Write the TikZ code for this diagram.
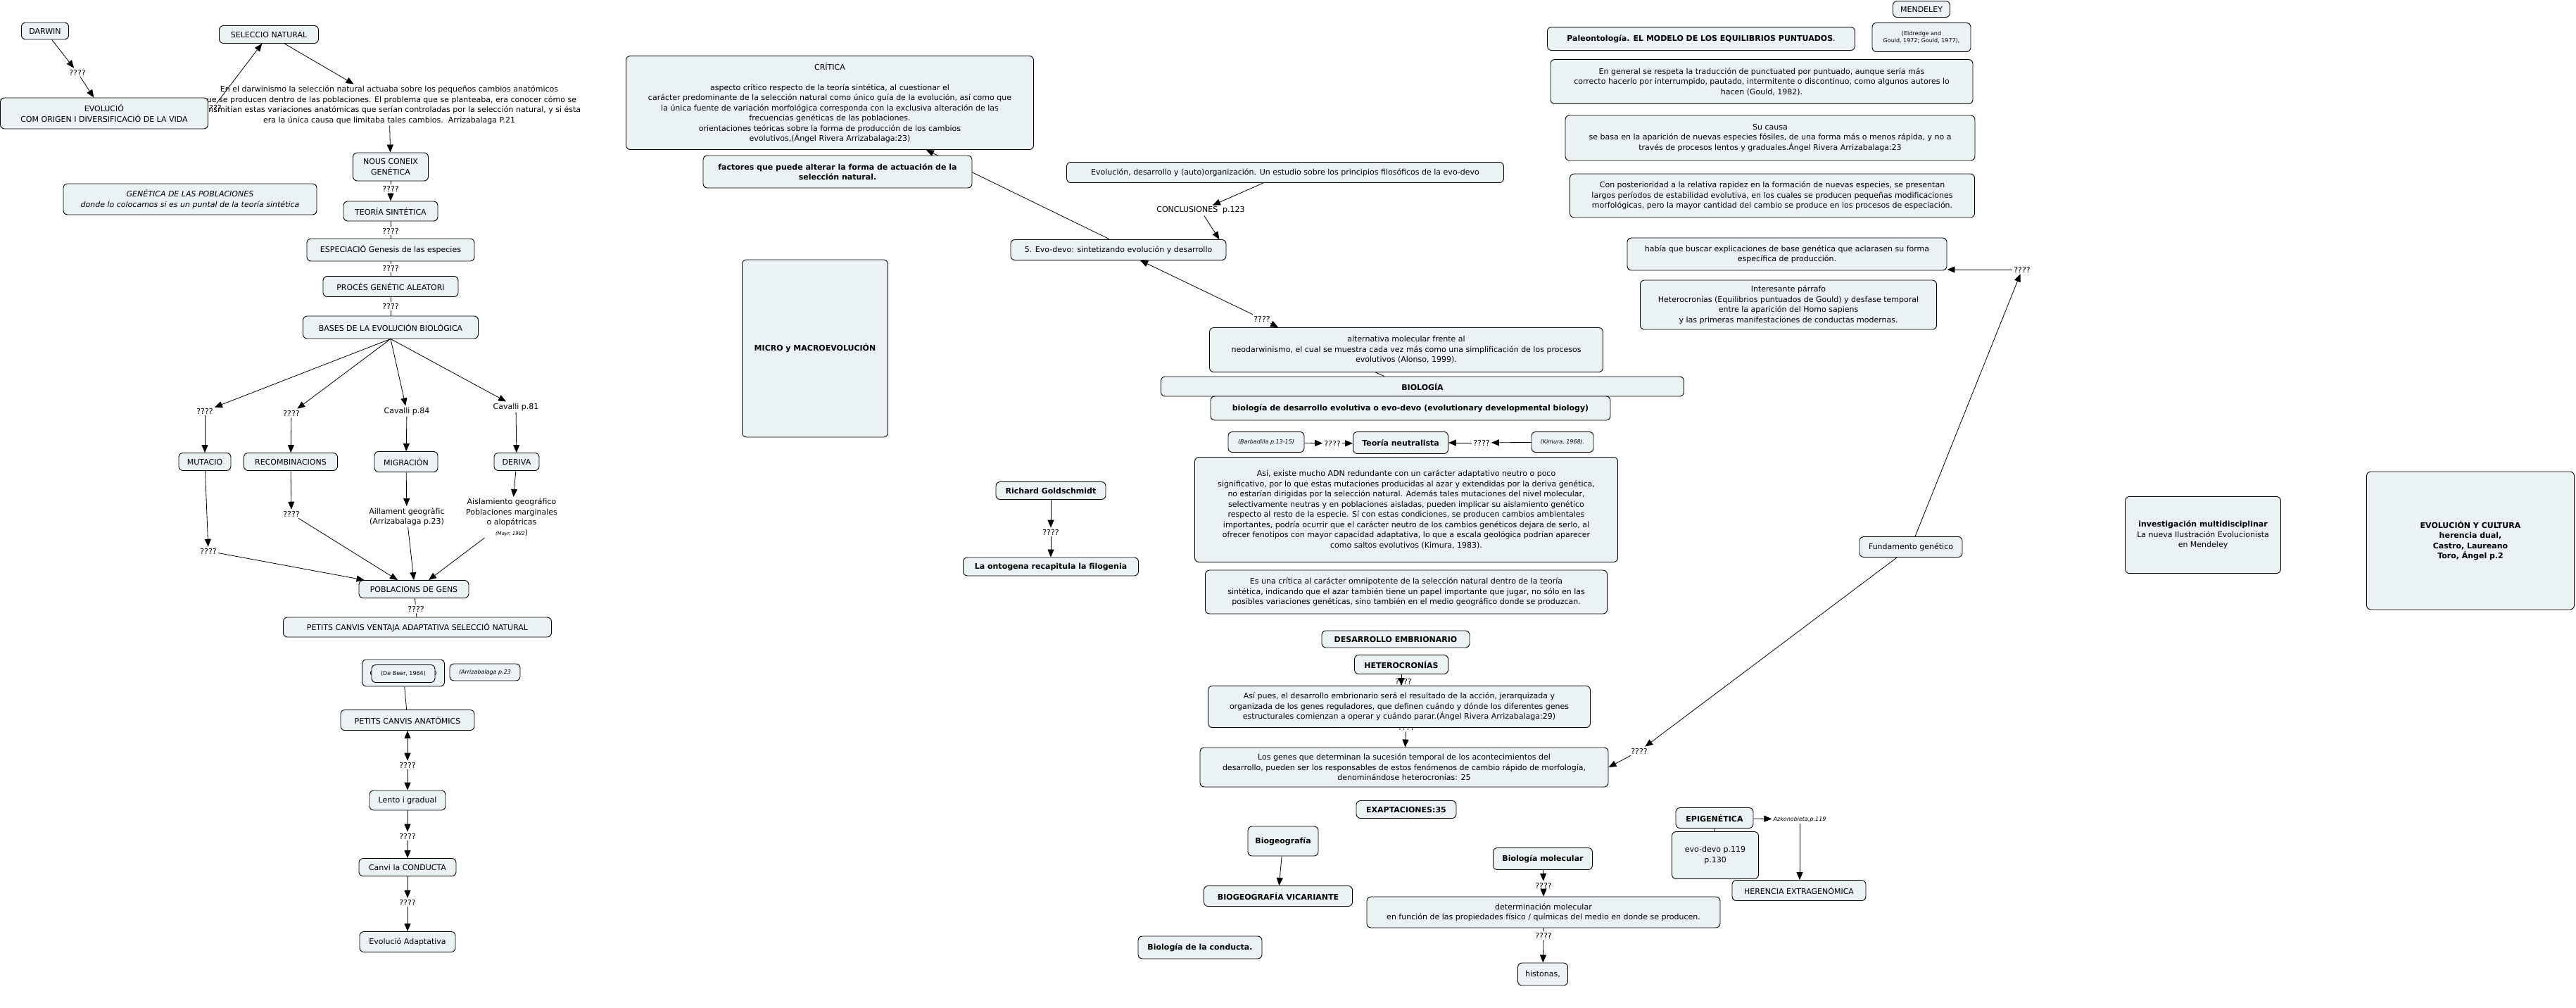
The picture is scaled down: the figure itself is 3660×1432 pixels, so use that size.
\documentclass[tikz,border=0pt]{standalone}
\usepackage{fontspec}
\setmainfont{DejaVu Sans}
\usetikzlibrary{arrows.meta,backgrounds,calc}
\definecolor{boxfill}{RGB}{235,242,244}
\newcommand\fs{\fontsize{11}{14.5}\selectfont}
\newcommand\smf{\fontsize{8}{10}\selectfont}
\tikzset{
 box/.style={draw=black, line width=0.9pt, fill=boxfill, rounded corners=6pt, align=center, inner sep=2pt, font=\fs, text=black},
 bbox/.style={box, font=\fs\bfseries},
 lbl/.style={inner sep=2pt, font=\fs, align=center, text=black},
 arr/.style={-{Triangle[length=11pt,width=9pt]}, line width=0.8pt},
 ln/.style={line width=0.8pt},
 darr/.style={{Triangle[length=11pt,width=9pt]}-{Triangle[length=11pt,width=9pt]}, line width=0.8pt},
}
\begin{document}
\begin{tikzpicture}[x=1pt,y=-1pt]
\useasboundingbox (0,0) rectangle (3660,1432);
% ---------------- left column
\node[box, minimum width=67, minimum height=24] (darwin) at (64,44) {DARWIN};
\node[lbl] (q1) at (110,103) {????};
\node[lbl] (para) at (553,149) {En el darwinismo la selección natural actuaba sobre los pequeños cambios anatómicos\\que se producen dentro de las poblaciones. El problema que se planteaba, era conocer cómo se\\transmitían estas variaciones anatómicas que serían controladas por la selección natural, y si ésta\\era la única causa que limitaba tales cambios.\ \ Arrizabalaga P.21};
\node[lbl] (q2) at (303,153) {????};
\node[box, minimum width=295, minimum height=44] (evol) at (148,161) {EVOLUCIÓ\\COM ORIGEN I DIVERSIFICACIÓ DE LA VIDA};
\node[box, minimum width=141, minimum height=25] (selnat) at (382,49) {SELECCIO NATURAL};
\node[box, minimum width=107, minimum height=40] (nous) at (555,237) {NOUS CONEIX\\GENÉTICA};
\node[lbl] (q3) at (555,268) {????};
\node[box, minimum width=134, minimum height=28] (teoria) at (555,300) {TEORÍA SINTÉTICA};
\node[lbl] (q4) at (555,328) {????};
\node[box, minimum width=238, minimum height=32] (espec) at (555,355) {ESPECIACIÓ Genesis de las especies};
\node[lbl] (q5) at (555,381) {????};
\node[box, minimum width=192, minimum height=29] (proces) at (555,407) {PROCÉS GENÉTIC ALEATORI};
\node[lbl] (q6) at (555,435) {????};
\node[box, minimum width=249, minimum height=32] (bases) at (555,465) {BASES DE LA EVOLUCIÓN BIOLÓGICA};
\node[box, minimum width=360, minimum height=44, font=\fs\itshape] (genpob) at (270,283) {GENÉTICA DE LAS POBLACIONES\\donde lo colocamos si es un puntal de la teoría sintética};
\node[lbl] (qm) at (291,584) {????};
\node[lbl] (qr) at (414,587) {????};
\node[lbl] (cav84) at (578,584) {Cavalli p.84};
\node[lbl] (cav81) at (733,578) {Cavalli p.81};
\node[box, minimum width=74, minimum height=25] (mut) at (291,656) {MUTACIO};
\node[box, minimum width=133, minimum height=25] (recomb) at (413,656) {RECOMBINACIONS};
\node[box, minimum width=90, minimum height=29] (migr) at (577,656) {MIGRACIÓN};
\node[box, minimum width=64, minimum height=25] (deriva) at (734,656) {DERIVA};
\node[lbl] (qm2) at (296,783) {????};
\node[lbl] (qr2) at (414,730) {????};
\node[lbl] (aill) at (578,734) {Aillament geogràfic\\(Arrizabalaga p.23)};
\node[lbl] (aisl) at (727,735) {Aislamiento geográfico\\Poblaciones marginales\\o alopátricas\\{\fontsize{7}{9}\selectfont\itshape (Mayr, 1982}{)}};
\node[box, minimum width=156, minimum height=25] (pobl) at (588,837) {POBLACIONS DE GENS};
\node[lbl] (q7) at (591,865) {????};
\node[box, minimum width=381, minimum height=28] (petits) at (593,891) {PETITS CANVIS VENTAJA ADAPTATIVA SELECCIÓ NATURAL};
\node[box, minimum width=117, minimum height=38] (beerout) at (573,956) {e\hspace{82pt}o};
\node[box, minimum width=90, minimum height=25, font=\smf] (beer) at (573,957) {(De Beer, 1964)};
\node[box, minimum width=100, minimum height=24, font=\smf\itshape] (arriz) at (689,955) {(Arrizabalaga p.23};
\node[box, minimum width=190, minimum height=29] (anat) at (579,1023) {PETITS CANVIS ANATÓMICS};
\node[lbl] (q8) at (579,1087) {????};
\node[box, minimum width=108, minimum height=28] (lento) at (579,1137) {Lento i gradual};
\node[lbl] (q9) at (579,1188) {????};
\node[box, minimum width=138, minimum height=25] (conducta) at (579,1232) {Canvi la CONDUCTA};
\node[lbl] (q10) at (579,1282) {????};
\node[box, minimum width=136, minimum height=29] (adapt) at (579,1338) {Evolució Adaptativa};
% ---------------- middle
\node[box, minimum width=579, minimum height=133] (critica) at (1179,146) {CRÍTICA\\[14.5pt]aspecto crítico respecto de la teoría sintética, al cuestionar el\\carácter predominante de la selección natural como único guía de la evolución, así como que\\la única fuente de variación morfológica corresponda con la exclusiva alteración de las\\frecuencias genéticas de las poblaciones.\\orientaciones teóricas sobre la forma de producción de los cambios\\evolutivos,(Ángel Rivera Arrizabalaga:23)};
\node[lbl] (qcrit) at (1589,346) {????};
\node[bbox, minimum width=382, minimum height=46] (factores) at (1190,244) {factores que puede alterar la forma de actuación de la\\selección natural.};
\node[bbox, minimum width=207, minimum height=252] (micro) at (1158,495) {MICRO y MACROEVOLUCIÓN};
\node[box, minimum width=621, minimum height=29] (evodes) at (1826,245) {Evolución, desarrollo y (auto)organización. Un estudio sobre los principios filosóficos de la evo-devo};
\node[lbl] (concl) at (1706,299) {CONCLUSIONES\ \ p.123};
\node[box, minimum width=306, minimum height=29] (evo5) at (1589,355) {5. Evo-devo: sintetizando evolución y desarrollo};
\node[lbl] (qalt) at (1793,453) {????};
\node[box, minimum width=559, minimum height=63] (alt) at (1998,497) {alternativa molecular frente al\\neodarwinismo, el cual se muestra cada vez más como una simplificación de los procesos\\evolutivos (Alonso, 1999).};
\node[bbox, minimum width=743, minimum height=28] (biol) at (2021,549) {BIOLOGÍA};
\node[bbox, minimum width=568, minimum height=34] (biodev) at (2004,580) {biología de desarrollo evolutiva o evo-devo (evolutionary developmental biology)};
\node[box, minimum width=108, minimum height=29, font=\smf\itshape] (barb) at (1799,628) {(Barbadilla p.13-15)};
\node[lbl] (qb) at (1893,630) {????};
\node[bbox, minimum width=135, minimum height=31] (teoneu) at (1990,629) {Teoría neutralista};
\node[lbl] (qk) at (2105,629) {????};
\node[box, minimum width=88, minimum height=29, font=\smf\itshape] (kim) at (2220,628) {(Kimura, 1968).};
\node[box, minimum width=601, minimum height=149] (asi) at (1998,724) {Así, existe mucho ADN redundante con un carácter adaptativo neutro o poco\\significativo, por lo que estas mutaciones producidas al azar y extendidas por la deriva genética,\\no estarían dirigidas por la selección natural. Además tales mutaciones del nivel molecular,\\selectivamente neutras y en poblaciones aisladas, pueden implicar su aislamiento genético\\respecto al resto de la especie. Sí con estas condiciones, se producen cambios ambientales\\importantes, podría ocurrir que el carácter neutro de los cambios genéticos dejara de serlo, al\\ofrecer fenotipos con mayor capacidad adaptativa, lo que a escala geológica podrían aparecer\\como saltos evolutivos (Kimura, 1983).};
\node[box, minimum width=571, minimum height=62] (escrit) at (1998,841) {Es una crítica al carácter omnipotente de la selección natural dentro de la teoría\\sintética, indicando que el azar también tiene un papel importante que jugar, no sólo en las\\posibles variaciones genéticas, sino también en el medio geográfico donde se produzcan.};
\node[bbox, minimum width=210, minimum height=24] (desemb) at (1983,908) {DESARROLLO EMBRIONARIO};
\node[bbox, minimum width=133, minimum height=27] (hetero) at (1991,944) {HETEROCRONÍAS};
\node[lbl] (qh) at (1994,968) {????};
\node[lbl] (qap) at (1998,1033) {????};
\node[box, minimum width=543, minimum height=59] (asipues) at (1988,1004) {Así pues, el desarrollo embrionario será el resultado de la acción, jerarquizada y\\organizada de los genes reguladores, que definen cuándo y dónde los diferentes genes\\estructurales comienzan a operar y cuándo parar.(Ángel Rivera Arrizabalaga:29)};
\node[box, minimum width=580, minimum height=56] (genes) at (1995,1090) {Los genes que determinan la sucesión temporal de los acontecimientos del\\desarrollo, pueden ser los responsables de estos fenómenos de cambio rápido de morfología,\\denominándose heterocronías: 25};
\node[bbox, minimum width=142, minimum height=25] (exap) at (1998,1150) {EXAPTACIONES:35};
\node[bbox, minimum width=100, minimum height=42] (biogeo) at (1823,1195) {Biogeografía};
\node[bbox, minimum width=211, minimum height=29] (vicar) at (1816,1273) {BIOGEOGRAFÍA VICARIANTE};
\node[bbox, minimum width=176, minimum height=32] (bconducta) at (1705,1346) {Biología de la conducta.};
\node[bbox, minimum width=141, minimum height=31] (biomol) at (2192,1220) {Biología molecular};
\node[lbl] (qbm) at (2193,1258) {????};
\node[box, minimum width=502, minimum height=44] (detmol) at (2193,1296) {determinación molecular\\en función de las propiedades físico / químicas del medio en donde se producen.};
\node[lbl] (qdm) at (2193,1329) {????};
\node[box, minimum width=71, minimum height=32] (histonas) at (2192,1384) {histonas,};
\node[lbl] (qrich) at (1493,756) {????};
\node[bbox, minimum width=156, minimum height=25] (richard) at (1493,697) {Richard Goldschmidt};
\node[bbox, minimum width=249, minimum height=26] (ontog) at (1493,805) {La ontogena recapitula la filogenia};
% ---------------- right
\node[bbox, minimum width=437, minimum height=33] (paleo) at (2417,55) {Paleontología. EL MODELO DE LOS EQUILIBRIOS PUNTUADOS{\mdseries .}};
\node[box, minimum width=81, minimum height=23] (mendeley) at (2730,13) {MENDELEY};
\node[box, minimum width=140, minimum height=41, font=\smf] (eldredge) at (2730,53) {(Eldredge and\\Gould, 1972; Gould, 1977),};
\node[box, minimum width=600, minimum height=63] (engen) at (2503,116) {En general se respeta la traducción de punctuated por puntuado, aunque sería más\\correcto hacerlo por interrumpido, pautado, intermitente o discontinuo, como algunos autores lo\\hacen (Gould, 1982).};
\node[box, minimum width=582, minimum height=64] (sucausa) at (2515,196) {Su causa\\se basa en la aparición de nuevas especies fósiles, de una forma más o menos rápida, y no a\\través de procesos lentos y graduales.Ángel Rivera Arrizabalaga:23};
\node[box, minimum width=575, minimum height=62] (conpost) at (2518,278) {Con posterioridad a la relativa rapidez en la formación de nuevas especies, se presentan\\largos períodos de estabilidad evolutiva, en los cuales se producen pequeñas modificaciones\\morfológicas, pero la mayor cantidad del cambio se produce en los procesos de especiación.};
\node[box, minimum width=454, minimum height=46] (habia) at (2539,361) {había que buscar explicaciones de base genética que aclarasen su forma\\específica de producción.};
\node[box, minimum width=421, minimum height=70] (interes) at (2541,433) {Interesante párrafo\\Heterocronías (Equilibrios puntuados de Gould) y desfase temporal\\entre la aparición del Homo sapiens\\y las primeras manifestaciones de conductas modernas.};
\node[lbl] (qhab) at (2873,383) {????};
\node[box, minimum width=146, minimum height=29] (fund) at (2715,777) {Fundamento genético};
\node[lbl] (qgen) at (2329,1067) {????};
\node[bbox, minimum width=110, minimum height=29] (epi) at (2436,1162) {EPIGENÉTICA};
\node[lbl, font=\smf\itshape] (azk) at (2557,1164) {Azkonobieta,p.119};
\node[box, minimum width=123, minimum height=67] (evo119) at (2437,1215) {evo-devo p.119\\p.130};
\node[box, minimum width=190, minimum height=29] (heren) at (2556,1265) {HERENCIA EXTRAGENÓMICA};
\node[box, minimum width=221, minimum height=109] (invest) at (3130,760) {\textbf{investigación multidisciplinar}\\La nueva Ilustración Evolucionista\\en Mendeley};
\node[bbox, minimum width=295, minimum height=196] (evocult) at (3510,768) {EVOLUCIÓN Y CULTURA\\herencia dual,\\Castro, Laureano\\Toro, Ángel p.2};
% ---------------- connectors
\begin{scope}[on background layer]
\fill[white] (0,0) rectangle (3660,1432);
\draw[arr] (darwin) -- (q1);
\draw[arr] (q1) -- (evol);
\draw[ln] (evol) -- (q2);
\draw[arr] (q2) -- (selnat);
\draw[arr] (selnat) -- (para);
\draw[arr] (para) -- (nous);
\draw[ln] (nous) -- (q3);
\draw[arr] (q3) -- (teoria);
\draw[ln] (teoria) -- (q4);
\draw[ln] (q4) -- (espec);
\draw[ln] (espec) -- (q5);
\draw[ln] (q5) -- (proces);
\draw[ln] (proces) -- (q6);
\draw[ln] (q6) -- (bases);
\draw[arr] (bases.south) -- (qm);
\draw[arr] (bases.south) -- (qr);
\draw[arr] (bases.south) -- (cav84);
\draw[arr] (bases.south) -- (cav81);
\draw[arr] (qm) -- (mut);
\draw[arr] (qr) -- (recomb);
\draw[arr] (cav84) -- (migr);
\draw[arr] (cav81) -- (deriva);
\draw[arr] (mut) -- (qm2);
\draw[arr] (recomb) -- (qr2);
\draw[arr] (migr) -- (aill);
\draw[arr] (deriva) -- (aisl);
\draw[arr] (qm2) -- ([xshift=8]pobl.north west);
\draw[arr] (qr2) -- ([xshift=-23]pobl.north);
\draw[arr] (aill) -- (pobl.north);
\draw[arr] (aisl) -- ([xshift=21]pobl.north);
\draw[ln] (pobl) -- (q7);
\draw[ln] (q7) -- (petits);
\draw[ln] (beerout) -- (anat);
\draw[darr] (anat) -- (q8);
\draw[arr] (q8) -- (lento);
\draw[arr] (lento) -- (q9);
\draw[arr] (q9) -- (conducta);
\draw[arr] (conducta) -- (q10);
\draw[arr] (q10) -- (adapt);
\draw[arr] (qcrit) -- (critica);
\draw[ln] (evo5) -- (qcrit);
\draw[arr] ([xshift=-31]evodes.south) -- (concl);
\draw[arr] (concl) -- ([xshift=-10]evo5.north east);
\draw[arr] (qalt) -- (evo5);
\draw[arr] (qalt) -- ([xshift=98]alt.north west);
\draw[ln] ([xshift=-44]alt.south) -- ([xshift=-54]biol.north);
\draw[arr] (barb) -- (qb);
\draw[arr] (qb) -- (teoneu);
\draw[arr] (kim) -- (qk);
\draw[arr] (qk) -- (teoneu);
\draw[arr] (hetero.south) -- (hetero.south |- asipues.north);
\draw[ln] (asipues) -- (qap);
\draw[arr] (qap) -- (genes);
\draw[arr] (biogeo) -- (vicar);
\draw[arr] (biomol) -- (qbm);
\draw[arr] (qbm) -- (detmol);
\draw[ln] (detmol) -- (qdm);
\draw[arr] (qdm) -- (histonas);
\draw[arr] (richard) -- (qrich);
\draw[arr] (qrich) -- (ontog);
\draw[arr] (fund) -- (qhab);
\draw[arr] (qhab.west) -- (qhab.west -| habia.east);
\draw[arr] (fund) -- (qgen);
\draw[arr] (qgen) -- (genes.east);
\draw[arr] (epi) -- (azk);
\draw[arr] (azk) -- (azk |- heren.north);
\draw[ln] (epi) -- (evo119);
\end{scope}
\end{tikzpicture}
\end{document}
